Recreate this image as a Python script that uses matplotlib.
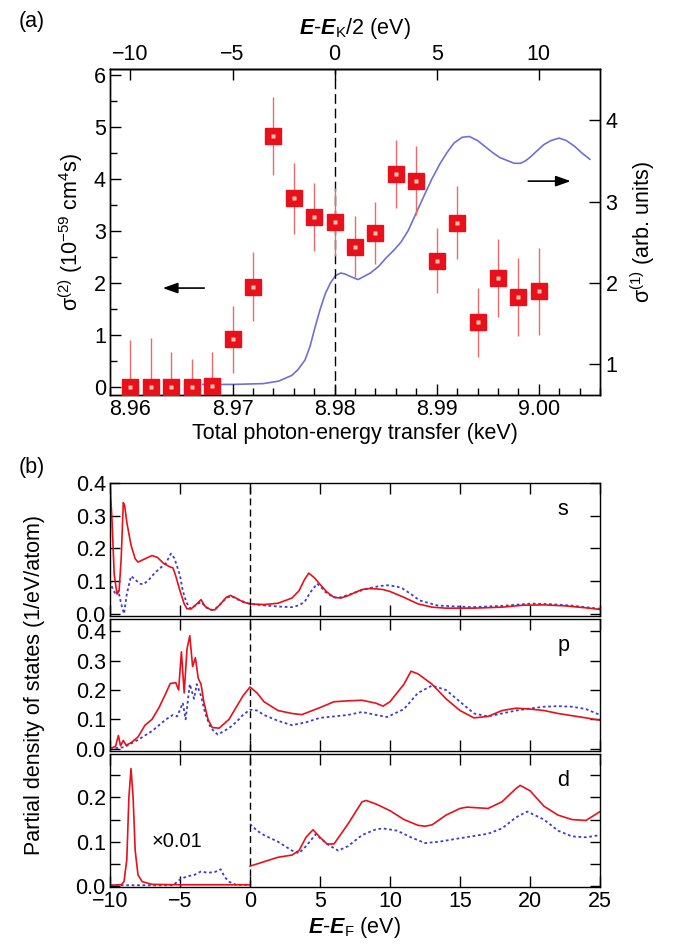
"""
Two-photon vs one-photon absorption near the K edge (a) and
calculated partial density of states s / p / d (b).

Output: out.png
"""

import matplotlib
matplotlib.use("Agg")
import matplotlib.pyplot as plt
from matplotlib.ticker import MultipleLocator, FormatStrFormatter

# ── data: panel (a) ──────────────────────────────────────────────────────────
energy_kev = [8.960, 8.962, 8.964, 8.966, 8.968, 8.970, 8.972, 8.974, 8.976,
              8.978, 8.980, 8.982, 8.984, 8.986, 8.988, 8.990, 8.992, 8.994,
              8.996, 8.998, 9.000]
sigma2 = [0.0, 0.0, 0.0, 0.0, 0.02, 0.91, 1.93, 4.83, 3.63, 3.27, 3.17, 2.70,
          2.96, 4.10, 3.97, 2.43, 3.16, 1.24, 2.09, 1.73, 1.84]
sigma2_err = [0.90, 0.93, 0.66, 0.54, 0.64, 0.64, 0.66, 0.76, 0.68, 0.65, 0.65,
              0.58, 0.59, 0.66, 0.66, 0.63, 0.70, 0.67, 0.75, 0.75, 0.84]

sigma1_kev = [8.9671, 8.9700, 8.9730, 8.9745, 8.9758, 8.9764, 8.9771, 8.9776,
              8.9781, 8.9786, 8.9791, 8.9796, 8.9801, 8.9806, 8.9810, 8.9815,
              8.9823, 8.9835, 8.9843, 8.9850, 8.9858, 8.9865, 8.9872, 8.9880,
              8.9888, 8.9895, 8.9903, 8.9910, 8.9917, 8.9925, 8.9932, 8.9940,
              8.9948, 8.9955, 8.9962, 8.9970, 8.9976, 8.9982, 8.9987, 8.9992,
              8.9998, 9.0005, 9.0012, 9.0020, 9.0027, 9.0035, 9.0042, 9.0050]
sigma1 = [0.75, 0.75, 0.76, 0.79, 0.86, 0.93, 1.05, 1.22, 1.46, 1.68, 1.87,
          2.00, 2.09, 2.12, 2.11, 2.08, 2.04, 2.12, 2.20, 2.30, 2.40, 2.50,
          2.64, 2.86, 3.08, 3.27, 3.46, 3.60, 3.72, 3.79, 3.80, 3.75, 3.67,
          3.60, 3.54, 3.50, 3.47, 3.47, 3.50, 3.55, 3.62, 3.70, 3.75, 3.78,
          3.75, 3.68, 3.60, 3.52]

# ── data: panel (b) ──────────────────────────────────────────────────────────
s_red_e = [-10.0, -9.85, -9.7, -9.5, -9.35, -9.2, -9.05, -8.95, -8.8, -8.5,
           -8.2, -8.0, -7.5, -7.0, -6.6, -6.2, -5.8, -5.5, -5.3, -5.0, -4.7,
           -4.5, -4.2, -3.8, -3.5, -3.2, -2.8, -2.5, -2.1, -1.7, -1.4, -1.0,
           -0.5, 0.0, 1.0, 2.0, 3.0, 3.5, 3.9, 4.2, 4.6, 5.0, 5.5, 6.0, 6.5,
           7.0, 7.5, 8.0, 8.5, 9.0, 9.5, 10.0, 11.0, 12.0, 13.0, 14.0, 16.0,
           18.0, 19.5, 21.0, 22.5, 24.0, 25.0]
s_red = [0.40, 0.28, 0.12, 0.06, 0.07, 0.17, 0.34, 0.33, 0.28, 0.21, 0.168,
         0.158, 0.168, 0.178, 0.172, 0.155, 0.145, 0.14, 0.115, 0.07, 0.03,
         0.015, 0.015, 0.03, 0.043, 0.022, 0.012, 0.012, 0.03, 0.05, 0.056,
         0.048, 0.036, 0.03, 0.028, 0.032, 0.048, 0.07, 0.105, 0.124, 0.11,
         0.09, 0.066, 0.05, 0.048, 0.055, 0.065, 0.074, 0.077, 0.076, 0.074,
         0.068, 0.05, 0.03, 0.02, 0.017, 0.017, 0.02, 0.026, 0.027, 0.024,
         0.018, 0.013]
s_blue_e = [-10.0, -9.8, -9.6, -9.4, -9.2, -9.0, -8.8, -8.5, -8.2, -7.9, -7.6,
            -7.2, -6.8, -6.4, -6.0, -5.65, -5.4, -5.0, -4.8, -4.55, -4.25,
            -3.9, -3.5, -3.1, -2.6, -2.1, -1.7, -1.35, -0.8, 0.0, 1.1, 2.0,
            3.0, 3.5, 3.9, 4.3, 4.8, 5.1, 5.4, 5.9, 6.3, 7.2, 8.0, 8.5, 9.3,
            9.85, 10.5, 10.9, 11.5, 12.1, 13.4, 15.8, 18.0, 20.1, 21.5, 22.9,
            25.0]
s_blue = [0.10, 0.075, 0.06, 0.07, 0.03, 0.0, 0.06, 0.115, 0.105, 0.092, 0.09,
          0.105, 0.125, 0.14, 0.155, 0.184, 0.17, 0.117, 0.07, 0.035, 0.015,
          0.025, 0.036, 0.018, 0.01, 0.03, 0.048, 0.054, 0.042, 0.03, 0.025,
          0.022, 0.02, 0.026, 0.036, 0.065, 0.092, 0.08, 0.066, 0.052, 0.048,
          0.06, 0.072, 0.078, 0.085, 0.087, 0.083, 0.077, 0.06, 0.041, 0.025,
          0.02, 0.024, 0.031, 0.029, 0.025, 0.015]

p_red_e = [-10.0, -9.6, -9.4, -9.25, -9.05, -8.85, -8.5, -8.0, -7.5, -7.0,
           -6.5, -6.0, -5.7, -5.3, -5.1, -4.9, -4.7, -4.5, -4.3, -4.1, -3.9,
           -3.7, -3.5, -3.3, -3.0, -2.7, -2.2, -1.5, -1.0, -0.5, 0.0, 0.5, 1.0,
           2.0, 3.0, 3.7, 5.0, 6.0, 7.0, 8.0, 9.0, 9.5, 10.0, 11.0, 11.5, 12.0,
           13.0, 14.0, 15.0, 16.0, 17.0, 18.0, 19.0, 20.0, 21.0, 22.0, 24.0,
           25.0]
p_red = [0.0, 0.008, 0.045, 0.01, 0.028, 0.012, 0.02, 0.04, 0.08, 0.10, 0.14,
         0.19, 0.222, 0.225, 0.20, 0.33, 0.19, 0.34, 0.385, 0.28, 0.31, 0.24,
         0.22, 0.16, 0.10, 0.072, 0.07, 0.10, 0.14, 0.18, 0.21, 0.19, 0.16,
         0.13, 0.12, 0.116, 0.14, 0.16, 0.163, 0.165, 0.155, 0.145, 0.16, 0.22,
         0.264, 0.255, 0.22, 0.17, 0.13, 0.105, 0.11, 0.13, 0.138, 0.135, 0.13,
         0.12, 0.105, 0.097]
p_blue_e = [-10.0, -9.0, -8.0, -7.0, -6.0, -5.5, -5.2, -4.8, -4.6, -4.3, -4.0,
            -3.8, -3.5, -3.2, -2.8, -2.3, -1.5, -1.0, -0.5, 0.0, 0.5, 1.0, 2.0,
            3.0, 4.0, 5.0, 6.0, 7.0, 8.0, 9.0, 9.8, 11.0, 12.0, 13.0, 14.0,
            15.0, 16.0, 17.0, 18.0, 19.0, 20.0, 21.0, 22.0, 23.0, 24.0, 25.0]
p_blue = [0.0, 0.005, 0.03, 0.06, 0.10, 0.115, 0.11, 0.156, 0.10, 0.22, 0.17,
          0.22, 0.18, 0.12, 0.07, 0.048, 0.07, 0.09, 0.115, 0.133, 0.13, 0.115,
          0.095, 0.08, 0.09, 0.105, 0.11, 0.115, 0.125, 0.115, 0.108, 0.135,
          0.19, 0.215, 0.20, 0.16, 0.12, 0.11, 0.12, 0.13, 0.137, 0.143, 0.145,
          0.143, 0.135, 0.115]

# d: occupied part (E < 0) is drawn x0.01, so it is kept apart from E > 0
d_red_occ_e = [-10.0, -9.2, -9.0, -8.8, -8.65, -8.5, -8.35, -8.2, -8.0, -7.7,
               -7.0, -5.0, 0.0]
d_red_occ = [0.002, 0.003, 0.01, 0.06, 0.20, 0.265, 0.20, 0.08, 0.025, 0.01,
             0.004, 0.003, 0.003]
d_red_e = [0.0, 1.0, 2.0, 3.0, 3.5, 4.0, 4.5, 5.0, 5.5, 6.0, 7.0, 8.0, 8.3, 9.0,
           10.0, 11.0, 12.0, 12.5, 13.0, 14.0, 15.0, 15.5, 16.0, 17.0, 18.0,
           19.0, 19.3, 20.0, 21.0, 22.0, 23.0, 24.0, 25.0]
d_red = [0.045, 0.055, 0.065, 0.07, 0.08, 0.11, 0.127, 0.11, 0.095, 0.095,
         0.14, 0.19, 0.193, 0.185, 0.17, 0.15, 0.137, 0.135, 0.138, 0.16,
         0.175, 0.178, 0.177, 0.175, 0.19, 0.22, 0.227, 0.215, 0.18, 0.16,
         0.15, 0.148, 0.168]
d_blue_occ_e = [-10.0, -5.5, -5.0, -4.5, -4.0, -3.5, -3.0, -2.5, -2.1, -1.8,
                -1.5, -1.0, 0.0]
d_blue_occ = [0.002, 0.002, 0.015, 0.022, 0.025, 0.033, 0.03, 0.032, 0.038,
              0.02, 0.01, 0.003, 0.003]
d_blue_e = [0.0, 0.5, 1.0, 2.0, 3.0, 3.5, 4.0, 4.7, 5.5, 6.3, 7.0, 8.0, 9.0,
            9.5, 10.5, 11.5, 12.5, 13.5, 15.0, 16.0, 17.0, 18.0, 19.0, 19.8,
            21.0, 22.0, 23.0, 24.0, 25.0]
d_blue = [0.14, 0.125, 0.115, 0.10, 0.08, 0.074, 0.09, 0.117, 0.095, 0.08,
          0.09, 0.115, 0.128, 0.13, 0.125, 0.11, 0.097, 0.10, 0.108, 0.113,
          0.118, 0.13, 0.155, 0.168, 0.15, 0.125, 0.112, 0.11, 0.115]

# ── style ────────────────────────────────────────────────────────────────────
RED = "#e8101a"
ERR = "#ec6a6a"
BLUE_A = "#6f6fd8"
BLUE_B = "#3c3cd0"
FS = 15.5

plt.rcParams["font.family"] = ["Liberation Sans", "DejaVu Sans"]
plt.rcParams["mathtext.fontset"] = "custom"
plt.rcParams["mathtext.rm"] = "Liberation Sans"
plt.rcParams["mathtext.it"] = "Liberation Sans:italic"
plt.rcParams["mathtext.bf"] = "Liberation Sans:italic:bold"
plt.rcParams["axes.linewidth"] = 1.0


def main():
    W, H = 675, 949
    fig = plt.figure(figsize=(W / 100, H / 100), dpi=100)
    L, R = 110 / W, 600 / W

    # ── panel (a) ────────────────────────────────────────────────────────────
    ax = fig.add_axes([L, 1 - 395 / H, R - L, (395 - 69) / H])
    axr = ax.twinx()
    ax.set_zorder(axr.get_zorder() + 1)
    ax.patch.set_visible(False)

    axr.plot(sigma1_kev, sigma1, color=BLUE_A, lw=1.2)
    ax.errorbar(energy_kev, sigma2, yerr=sigma2_err, fmt="none",
                ecolor=ERR, elinewidth=1.0, capsize=0, zorder=3)
    ax.plot(energy_kev, sigma2, ls="none", marker="s", ms=11,
            color=RED, mec=RED, zorder=4)
    ax.plot(energy_kev, sigma2, ls="none", marker="s", ms=2.5,
            color="#ffc8b0", mec="none", zorder=5)
    ax.axvline(8.98, color="k", lw=1.0, ls=(0, (7, 3.5)), zorder=2)

    ax.set_xlim(8.958, 9.006)
    ax.set_ylim(-0.16, 6.12)
    axr.set_ylim(0.62, 4.63)

    ax.xaxis.set_major_locator(MultipleLocator(0.01))
    ax.xaxis.set_minor_locator(MultipleLocator(0.002))
    ax.xaxis.set_major_formatter(FormatStrFormatter("%.2f"))
    ax.yaxis.set_major_locator(MultipleLocator(1))
    ax.yaxis.set_minor_locator(MultipleLocator(0.5))
    axr.yaxis.set_major_locator(MultipleLocator(1))
    ax.tick_params(which="both", direction="in", top=False, right=False,
                   labelsize=FS, pad=3)
    ax.tick_params(which="major", length=8, width=1.0)
    ax.tick_params(which="minor", length=5, width=1.0)
    axr.tick_params(direction="in", length=8, width=1.0, labelsize=FS, pad=4)

    ax.set_xlabel("Total photon-energy transfer (keV)", fontsize=FS, labelpad=2)
    ax.set_ylabel("σ$^{(2)}$ (10$^{-59}$ cm$^{4}$s)", fontsize=FS, labelpad=6)
    axr.set_ylabel("σ$^{(1)}$ (arb. units)", fontsize=FS, labelpad=8)

    top = ax.secondary_xaxis("top", functions=(lambda k: (k - 8.98) * 500,
                                               lambda e: e / 500 + 8.98))
    top.set_xticks([-10, -5, 0, 5, 10])
    top.tick_params(direction="in", length=8, width=1.0, labelsize=FS, pad=3)
    top.set_xlabel(r"$\mathbf{E}$-$\mathbf{E}_{\mathrm{K}}$/2 (eV)",
                   fontsize=FS, labelpad=7)

    # arrows pointing at the relevant axis
    ax.annotate("", xy=(8.9629, 1.90), xytext=(8.9675, 1.90),
                arrowprops=dict(arrowstyle="-|>,head_length=0.9,head_width=0.32",
                                color="k", lw=1.2))
    ax.annotate("", xy=(9.0034, 3.96), xytext=(8.9987, 3.96),
                arrowprops=dict(arrowstyle="-|>,head_length=0.9,head_width=0.32",
                                color="k", lw=1.2))

    fig.text(32 / W, 1 - 22 / H, "(a)", fontsize=FS, ha="center", va="center")
    fig.text(32 / W, 1 - 467 / H, "(b)", fontsize=FS, ha="center", va="center")

    # ── panel (b) ────────────────────────────────────────────────────────────
    b_top, b_bot, gap = 483, 887, 3
    h = (b_bot - b_top - 2 * gap) / 3
    axes = []
    for i in range(3):
        y0 = b_top + i * (h + gap)
        axes.append(fig.add_axes([L, 1 - (y0 + h) / H, R - L, h / H]))
    ax_s, ax_p, ax_d = axes

    ax_s.plot(s_blue_e, s_blue, color=BLUE_B, lw=1.3, ls=(0, (1.5, 1.5)))
    ax_s.plot(s_red_e, s_red, color=RED, lw=1.2)
    ax_p.plot(p_blue_e, p_blue, color=BLUE_B, lw=1.3, ls=(0, (1.5, 1.5)))
    ax_p.plot(p_red_e, p_red, color=RED, lw=1.2)
    ax_d.plot(d_blue_occ_e, d_blue_occ, color=BLUE_B, lw=1.3, ls=(0, (1.5, 1.5)))
    ax_d.plot(d_blue_e, d_blue, color=BLUE_B, lw=1.3, ls=(0, (1.5, 1.5)))
    ax_d.plot(d_red_occ_e, d_red_occ, color=RED, lw=1.2)
    ax_d.plot(d_red_e, d_red, color=RED, lw=1.2)

    ax_s.set_ylim(-0.006, 0.40)
    ax_p.set_ylim(-0.009, 0.443)
    ax_d.set_ylim(-0.002, 0.297)

    for a, lab in zip(axes, ["s", "p", "d"]):
        a.set_xlim(-10, 25)
        a.axvline(0, color="k", lw=1.0, ls=(0, (5, 3)))
        a.xaxis.set_major_locator(MultipleLocator(5))
        a.yaxis.set_major_locator(MultipleLocator(0.1))
        a.yaxis.set_major_formatter(FormatStrFormatter("%.1f"))
        a.tick_params(which="both", direction="in", top=True, right=True,
                      labelsize=FS, pad=3, width=1.0)
        a.tick_params(axis="x", length=8)
        a.tick_params(axis="y", which="both", length=7)
        a.text(0.925, 0.80, lab, transform=a.transAxes, fontsize=FS,
               ha="center", va="center")
    ax_d.yaxis.set_minor_locator(MultipleLocator(0.05))
    ax_s.tick_params(labelbottom=False)
    ax_p.tick_params(labelbottom=False)

    ax_d.text(-5.2, 0.10, "×0.01", fontsize=FS - 1, ha="center", va="center")
    ax_d.set_xlabel(r"$\mathbf{E}$-$\mathbf{E}_{\mathrm{F}}$ (eV)",
                    fontsize=FS, labelpad=2)
    fig.text(35 / W, 1 - (b_top + b_bot) / 2 / H,
             "Partial density of states (1/eV/atom)", fontsize=FS,
             rotation=90, ha="center", va="center")

    fig.savefig("out.png", dpi=100)
    plt.close(fig)


if __name__ == "__main__":
    main()
